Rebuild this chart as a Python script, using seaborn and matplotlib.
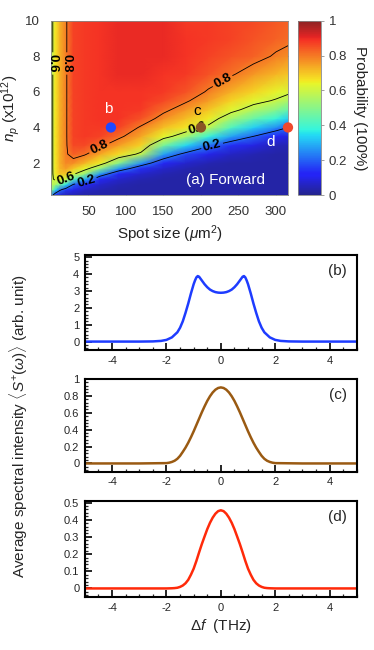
import numpy as np
import matplotlib
matplotlib.use("Agg")
import matplotlib.pyplot as plt
import seaborn as sns
from matplotlib.ticker import AutoMinorLocator, MultipleLocator, FuncFormatter
from matplotlib.colors import ListedColormap

# ---- panel (a): probability map ----
spot_size = [0, 2, 6, 12, 20, 30, 45, 65, 90, 120, 150, 180, 210, 240, 270, 300, 316]
n_p = [0.2, 0.5, 0.8, 1.1, 1.4, 1.7, 2.0, 2.5, 3.0, 3.5, 4.0, 4.5, 5.0, 5.5, 6.0, 7.0, 8.0, 9.0, 10.0]

# one list per spot size, values going up in n_p
prob_columns = [
    [.25, .45, .54, .56, .56, .56, .56, .56, .56, .56, .56, .56, .56, .56, .56, .56, .56, .56, .56],
    [.22, .50, .58, .59, .59, .59, .59, .59, .59, .59, .59, .59, .59, .59, .59, .59, .59, .59, .59],
    [.12, .35, .55, .62, .65, .66, .66, .66, .66, .66, .66, .66, .66, .66, .66, .66, .66, .66, .66],
    [.08, .22, .48, .64, .70, .72, .73, .73, .73, .73, .73, .73, .73, .73, .73, .73, .73, .73, .73],
    [.05, .15, .36, .60, .70, .75, .78, .79, .79, .79, .79, .79, .79, .79, .79, .79, .79, .79, .79],
    [.04, .10, .20, .42, .62, .70, .77, .83, .86, .87, .87, .87, .87, .87, .87, .87, .87, .87, .87],
    [.03, .06, .13, .30, .52, .64, .72, .81, .86, .88, .88, .88, .88, .88, .88, .88, .88, .88, .88],
    [.03, .04, .07, .13, .27, .52, .65, .74, .82, .87, .88, .89, .89, .89, .89, .89, .89, .89, .89],
    [.03, .03, .04, .07, .13, .27, .50, .67, .75, .82, .87, .89, .89, .89, .89, .90, .90, .90, .90],
    [.03, .03, .03, .04, .07, .14, .26, .58, .68, .74, .79, .85, .88, .89, .89, .90, .90, .90, .90],
    [.03, .03, .03, .03, .04, .07, .13, .28, .48, .64, .71, .77, .82, .86, .88, .89, .90, .90, .90],
    [.03, .03, .03, .03, .03, .04, .07, .17, .34, .54, .66, .71, .76, .81, .85, .88, .89, .89, .88],
    [.03, .03, .03, .03, .03, .03, .04, .10, .22, .38, .58, .65, .70, .75, .79, .85, .87, .88, .88],
    [.03, .03, .03, .03, .03, .03, .03, .06, .14, .28, .42, .54, .63, .68, .73, .81, .85, .87, .87],
    [.03, .03, .03, .03, .03, .03, .03, .04, .09, .20, .33, .45, .56, .63, .68, .76, .83, .85, .86],
    [.03, .03, .03, .03, .03, .03, .03, .03, .05, .12, .25, .38, .50, .59, .64, .72, .79, .83, .84],
    [.03, .03, .03, .03, .03, .03, .03, .03, .04, .09, .20, .33, .45, .55, .62, .70, .77, .82, .83],
]
contour_levels = [0.2, 0.6, 0.8]

point_names = ['b', 'c', 'd']
point_spot = [80, 200, 316]
point_np = [4, 4, 4]
point_colors = ['#1f48ff', '#8a5524', '#f0482c']

# ---- panels (b)-(d): spectra ----
freq_b = [-5, -3, -2.5, -2.2, -2.0, -1.8, -1.6, -1.5, -1.4, -1.3, -1.2, -1.1, -1.0, -0.95, -0.9, -0.85,
          -0.8, -0.7, -0.6, -0.5, -0.4, -0.3, -0.2, -0.1, 0, 0.1, 0.2, 0.3, 0.4, 0.5, 0.6, 0.7, 0.8,
          0.85, 0.9, 0.95, 1.0, 1.1, 1.2, 1.3, 1.4, 1.5, 1.6, 1.8, 2.0, 2.2, 2.5, 3, 5]
spec_b = [0, 0, 0.01, 0.04, 0.1, 0.25, 0.55, 0.82, 1.2, 1.7, 2.25, 2.85, 3.4, 3.62, 3.8, 3.88,
          3.84, 3.62, 3.4, 3.22, 3.08, 2.99, 2.93, 2.9, 2.89, 2.9, 2.93, 2.99, 3.08, 3.22, 3.4, 3.62, 3.84,
          3.88, 3.8, 3.62, 3.4, 2.85, 2.25, 1.7, 1.2, 0.82, 0.55, 0.25, 0.1, 0.04, 0.01, 0, 0]

freq_c = [-5, -3, -2.0, -1.9, -1.8, -1.7, -1.6, -1.5, -1.4, -1.3, -1.2, -1.1, -1.0, -0.9, -0.8, -0.7,
          -0.6, -0.5, -0.4, -0.3, -0.2, -0.1, 0, 0.1, 0.2, 0.3, 0.4, 0.5, 0.6, 0.7, 0.8, 0.9, 1.0,
          1.1, 1.2, 1.3, 1.4, 1.5, 1.6, 1.7, 1.8, 1.9, 2.0, 3, 5]
spec_c = [0, 0, 0.004, 0.009, 0.018, 0.032, 0.055, 0.09, 0.137, 0.187, 0.245, 0.31, 0.38, 0.455, 0.53, 0.605,
          0.675, 0.74, 0.795, 0.84, 0.873, 0.893, 0.9, 0.893, 0.873, 0.84, 0.795, 0.74, 0.675, 0.605, 0.53, 0.455, 0.38,
          0.31, 0.245, 0.187, 0.137, 0.09, 0.055, 0.032, 0.018, 0.009, 0.004, 0, 0]

freq_d = [-5, -3, -2.0, -1.8, -1.7, -1.6, -1.5, -1.4, -1.3, -1.2, -1.1, -1.0, -0.9, -0.8, -0.7,
          -0.6, -0.5, -0.4, -0.3, -0.2, -0.1, 0, 0.1, 0.2, 0.3, 0.4, 0.5, 0.6, 0.7, 0.8, 0.9, 1.0,
          1.1, 1.2, 1.3, 1.4, 1.5, 1.6, 1.7, 1.8, 2.0, 3, 5]
spec_d = [0, 0, 0, 0.001, 0.002, 0.004, 0.009, 0.017, 0.03, 0.05, 0.08, 0.115, 0.16, 0.21, 0.258,
          0.302, 0.345, 0.382, 0.412, 0.435, 0.45, 0.455, 0.45, 0.435, 0.412, 0.382, 0.345, 0.302, 0.258, 0.21, 0.16, 0.115,
          0.08, 0.05, 0.03, 0.017, 0.009, 0.004, 0.002, 0.001, 0, 0, 0]

panel_tags = ['(b)', '(c)', '(d)']
panel_colors = ['#1e3cff', '#9a5a12', '#ff2a0a']
panel_ylims = [(-0.5, 5.12), (-0.1, 1.0), (-0.05, 0.51)]
panel_ymajor = [1, 0.2, 0.1]

sns.set_style("ticks")
plt.rcParams['font.family'] = ['Liberation Sans', 'DejaVu Sans']
plt.rcParams['mathtext.fontset'] = 'custom'
plt.rcParams['mathtext.rm'] = 'Liberation Sans'
plt.rcParams['mathtext.it'] = 'Liberation Sans:italic'
plt.rcParams['mathtext.bf'] = 'Liberation Sans:bold'

# jet, a little washed out like the scanned figure
jet = plt.get_cmap('jet')(np.linspace(0, 1, 256))
soft = jet.copy()
soft[:, :3] = 0.82 * jet[:, :3] + 0.18 * 0.78
soft_jet = ListedColormap(soft)

fig = plt.figure(figsize=(3.74, 6.5), dpi=100)

# ---------- (a) ----------
ax = fig.add_axes([0.136, 0.700, 0.634, 0.268])
X, Y = np.meshgrid(spot_size, n_p)
P = np.array(prob_columns).T
mesh = ax.pcolormesh(X, Y, P, cmap=soft_jet, vmin=0, vmax=1, shading='gouraud')
cs = ax.contour(X, Y, P, levels=contour_levels, colors='k', linewidths=0.6)
labels = ax.clabel(cs, fmt='%.1f', fontsize=9.5, inline=True, inline_spacing=2,
                   manual=[(22, 7.6), (4, 7.6), (64, 2.9), (229, 6.6),
                           (20, 1.05), (195, 4.0), (47, 0.95), (215, 2.95)])
for t in labels:
    t.set_fontweight('bold')

sns.scatterplot(x=point_spot, y=point_np, hue=point_names, palette=point_colors,
                s=55, edgecolor='none', legend=False, ax=ax, clip_on=False, zorder=5)
ax.text(77, 5.05, 'b', color='white', fontsize=11, ha='center', va='center')
ax.text(195, 4.95, 'c', color='black', fontsize=11, ha='center', va='center')
ax.text(293, 3.2, 'd', color='white', fontsize=11, ha='center', va='center')
ax.text(233, 1.05, '(a) Forward', color='white', fontsize=11, ha='center', va='center')

ax.set_xlim(0, 316)
ax.set_ylim(0.2, 10)
ax.set_xticks([50, 100, 150, 200, 250, 300])
ax.set_yticks([2, 4, 6, 8, 10])
ax.tick_params(direction='in', length=2.5, width=0.5, color='#777777', labelcolor='#333333',
               labelsize=9.5, top=True, right=True)
ax.tick_params(axis='x', pad=8)
ax.tick_params(axis='y', pad=8)
for s in ax.spines.values():
    s.set_color('#888888')
    s.set_linewidth(0.6)
ax.set_xlabel(r'Spot size ($\mu$m$^2$)', fontsize=11, color='#222222', labelpad=4)
ax.set_ylabel(r'$n_p$ (x10$^{12}$)', fontsize=11, color='#222222', labelpad=2)

cax = fig.add_axes([0.797, 0.700, 0.062, 0.268])
cb = fig.colorbar(mesh, cax=cax)
cb.set_ticks([0, 0.2, 0.4, 0.6, 0.8, 1])
cb.set_ticklabels(['0', '0.2', '0.4', '0.6', '0.8', '1'])
cb.ax.tick_params(direction='out', length=2, width=0.5, color='#777777', labelcolor='#333333', labelsize=9.5)
cb.outline.set_edgecolor('#888888')
cb.outline.set_linewidth(0.6)
cb.set_label('Probability (100%)', rotation=270, fontsize=11, color='#222222', labelpad=14)

# ---------- (b)-(d) ----------
freqs = [freq_b, freq_c, freq_d]
specs = [spec_b, spec_c, spec_d]
bottoms = [0.4615, 0.274, 0.0815]
heights = [0.146, 0.143, 0.148]
fmt = FuncFormatter(lambda v, p: '%g' % round(v, 3))
for i in range(3):
    axp = fig.add_axes([0.227, bottoms[i], 0.727, heights[i]])
    sns.lineplot(x=freqs[i], y=specs[i], color=panel_colors[i], linewidth=1.8, ax=axp)
    axp.set_xlim(-5, 5)
    axp.set_ylim(*panel_ylims[i])
    axp.xaxis.set_major_locator(MultipleLocator(2))
    axp.xaxis.set_minor_locator(MultipleLocator(0.5))
    axp.yaxis.set_major_locator(MultipleLocator(panel_ymajor[i]))
    axp.yaxis.set_minor_locator(AutoMinorLocator(5))
    axp.yaxis.set_major_formatter(fmt)
    axp.xaxis.set_major_formatter(fmt)
    axp.tick_params(which='major', direction='in', length=5, width=1.4, labelsize=8, pad=4)
    axp.tick_params(which='minor', direction='in', length=2.5, width=0.9)
    for s in axp.spines.values():
        s.set_linewidth(1.5)
        s.set_color('black')
    axp.text(0.93, 0.83, panel_tags[i], transform=axp.transAxes, fontsize=11, ha='center', va='center')
    if i == 2:
        axp.set_xlabel(r'$\Delta f$  (THz)', fontsize=11, labelpad=3)

fig.text(0.05, 0.345, r'Average spectral intensity $\langle S^{+}(\omega)\rangle$ (arb. unit)',
         rotation=90, fontsize=11, ha='center', va='center')

fig.savefig('out.png', dpi=100)
